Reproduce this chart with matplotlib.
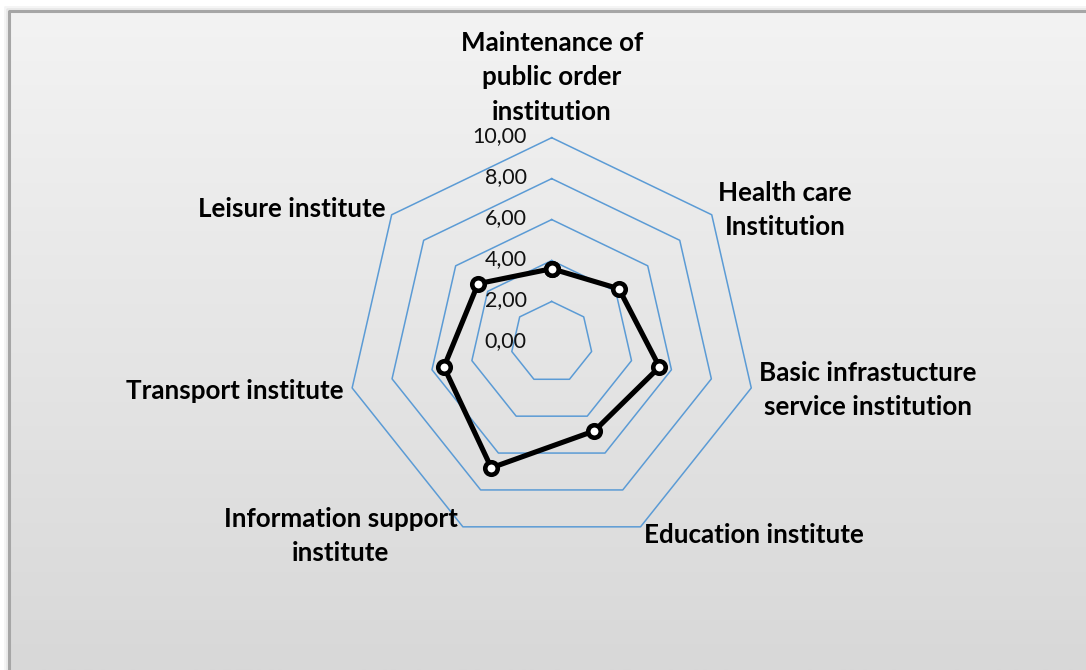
import numpy as np
import matplotlib
matplotlib.use("Agg")
import matplotlib.pyplot as plt
from matplotlib.colors import LinearSegmentedColormap

categories = ["Maintenance of\npublic order\ninstitution", "Health care\nInstitution",
              "Basic infrastucture\nservice institution", "Education institute",
              "Information support\ninstitute", "Transport institute", "Leisure institute"]
values = [3.6, 4.2, 5.4, 4.8, 6.8, 5.4, 4.6]
ticks = [0, 2, 4, 6, 8, 10]
tick_labels = ["0,00", "2,00", "4,00", "6,00", "8,00", "10,00"]

# label placement in pixels: (center x, first baseline y)
label_pos = [(552, 50.7), (785, 200.7), (867.5, 380.7), (754, 542.7),
             (340.7, 526.7), (234.7, 399), (291.5, 216.7)]
line_step = 34.5

W, H = 1086, 670
plt.rcParams["font.family"] = ["Lato", "DejaVu Sans"]
fig = plt.figure(figsize=(W / 100, H / 100), dpi=100)
fig.patch.set_facecolor("white")

# background panel with gradient and border
bg = fig.add_axes([0, 0, 1, 1])
bg.set_xlim(0, W)
bg.set_ylim(H, 0)
bg.axis("off")
cmap = LinearSegmentedColormap.from_list("g", ["#f3f3f3", "#d8d8d8"])
grad = np.linspace(0, 1, 256).reshape(-1, 1)
bg.imshow(grad, cmap=cmap, extent=[9, W, H, 11], aspect="auto", zorder=0)
for off, col in [(4, "#f4f4f4"), (2.5, "#e6e6e6")]:
    bg.plot([9 - off, 9 - off, W], [H, 11 - off, 11 - off], color=col, lw=1.2, zorder=1)
bg.plot([9, 9, W], [H, 11, 11], color="#a6a6a6", lw=2.2, zorder=2)

# radar axes
cx, cy, R = 551.7, 342.4, 204.7
ax = fig.add_axes([(cx - R) / W, (H - cy - R) / H, 2 * R / W, 2 * R / H], projection="polar")
ax.set_theta_zero_location("N")
ax.set_theta_direction(-1)
ax.set_ylim(0, 10)
ax.axis("off")

n = len(categories)
angles = np.linspace(0, 2 * np.pi, n, endpoint=False)
closed = np.append(angles, angles[0])

for t in ticks[1:]:
    ax.plot(closed, [t] * (n + 1), color="#5b9bd5", lw=1.1, clip_on=False, zorder=2)

vals = np.append(values, values[0])
ax.plot(closed, vals, color="black", lw=3.7, marker="o", mfc="white", mec="black",
        ms=9, mew=3.3, clip_on=False, zorder=3)

for t, lbl in zip(ticks, tick_labels):
    ax.annotate(lbl, xy=(0, t), xytext=(-18, 1), textcoords="offset points",
                ha="right", va="center", fontsize=15.5, color="#111111", zorder=4)

for cat, (x, y) in zip(categories, label_pos):
    for i, line in enumerate(cat.split("\n")):
        fig.text(x / W, 1 - (y + i * line_step) / H, line, ha="center", va="baseline",
                 fontsize=18.7, fontweight="bold", color="black")

fig.savefig("out.png", dpi=100)
